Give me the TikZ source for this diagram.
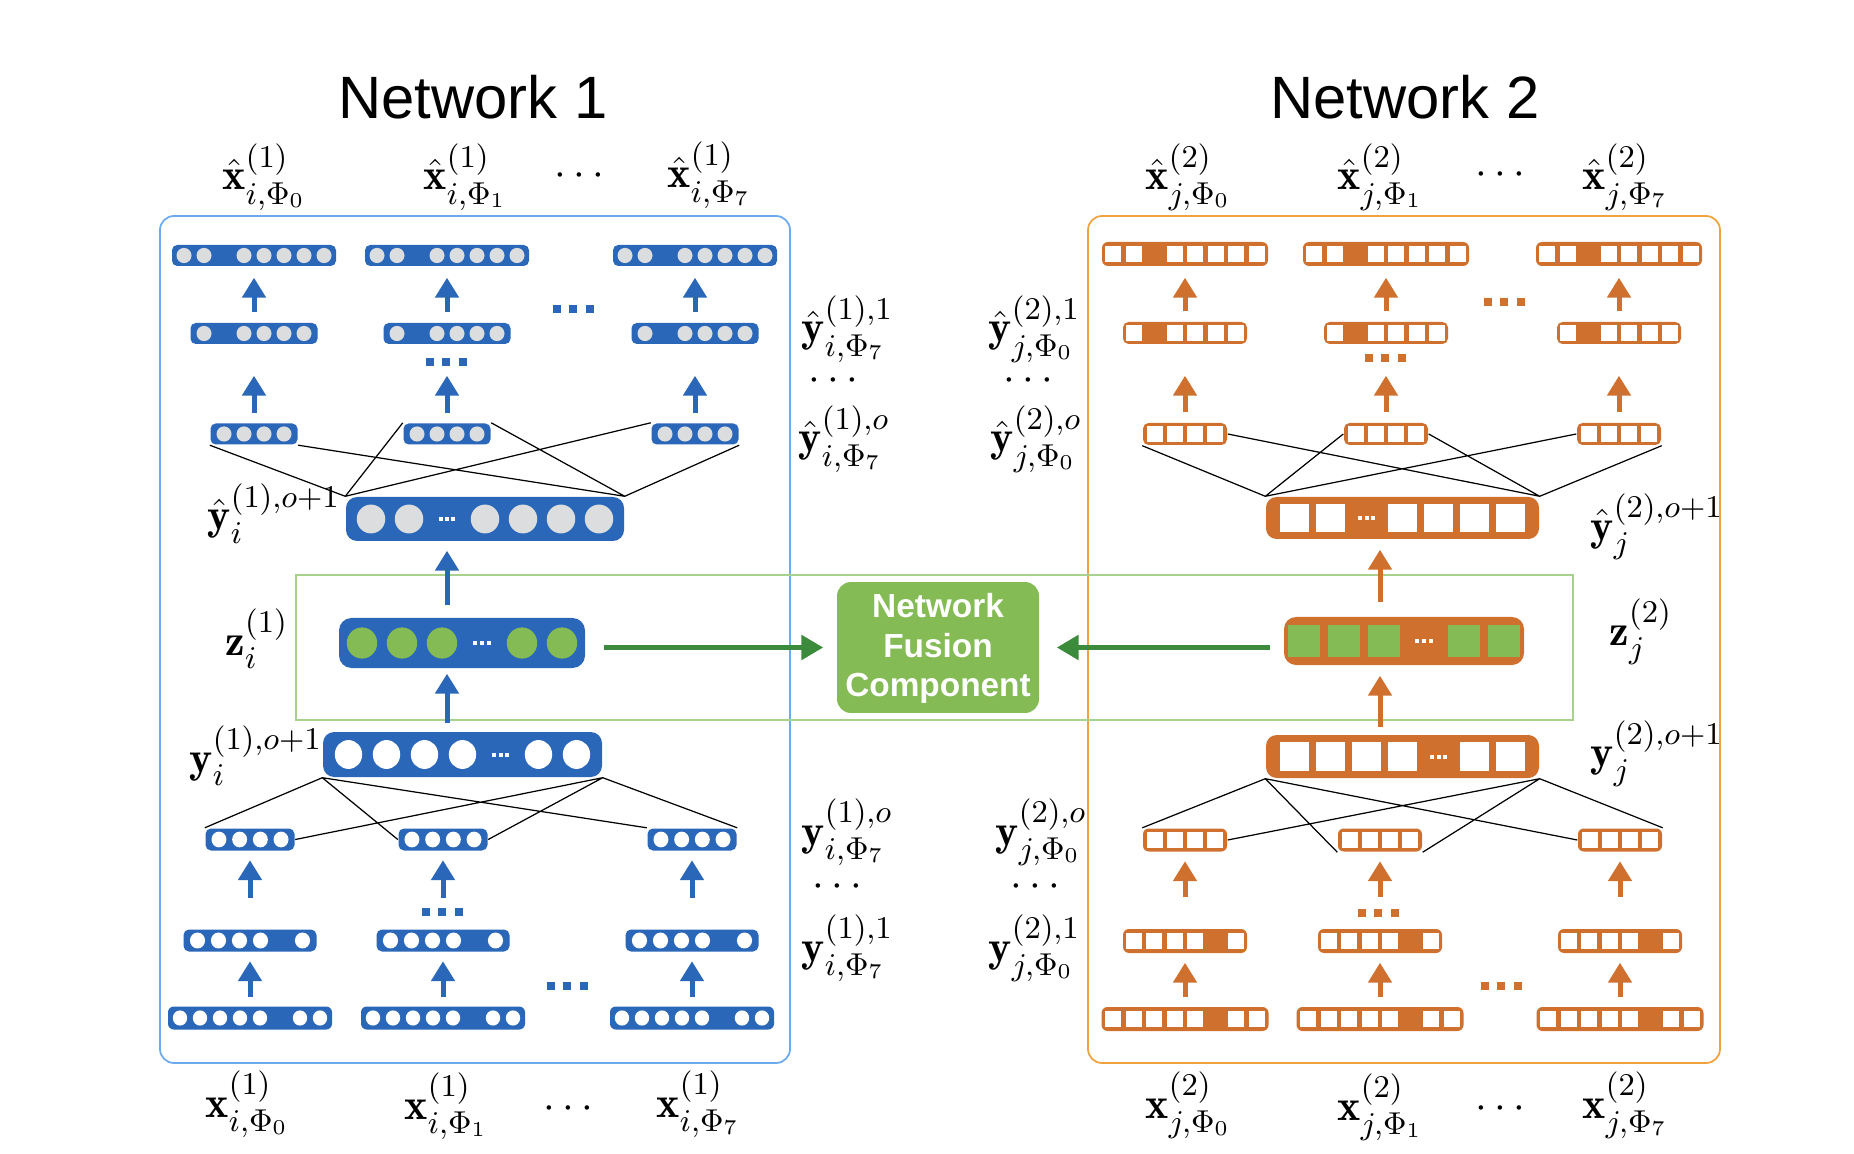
\documentclass[tikz,border=0pt]{standalone}
\usepackage{amsmath, amssymb}
\usepackage{fontspec}
\newfontfamily\headfont{Liberation Sans}
\usepackage{tikz}
\usetikzlibrary{arrows.meta, calc}

\definecolor{nblue}{HTML}{2A67B8}
\definecolor{norange}{HTML}{D0702F}
\definecolor{cgrey}{HTML}{DCDDDF}
\definecolor{cgreen}{HTML}{84BB55}
\definecolor{agreen}{HTML}{3C8A3B}
\definecolor{fblue}{HTML}{6BAAEE}
\definecolor{forange}{HTML}{F0A23F}
\definecolor{fgreen}{HTML}{A9D18E}

% one slot of a layer: #1 centre, #2 slot step
\newcommand{\slotg}[2]{\fill[cgrey] (#1) ellipse [x radius=#2*0.375, y radius=#2*0.38];}
\newcommand{\slotw}[2]{\fill[white] (#1) ellipse [x radius=#2*0.36, y radius=#2*0.38];}
\newcommand{\slotz}[2]{\fill[cgreen] (#1) ellipse [x radius=#2*0.38, y radius=#2*0.39];}
\newcommand{\slotb}[2]{\fill[white] (#1) +(-#2*0.4,-#2*0.4) rectangle +(#2*0.4,#2*0.4);}
\newcommand{\slotq}[2]{\fill[cgreen] (#1) +(-#2*0.39,-#2*0.4) rectangle +(#2*0.39,#2*0.4);}
\newcommand{\slotx}[2]{}
\newcommand{\slotd}[2]{\foreach \e in {-1,0,1} \fill[white] ($(#1)+(\e*#2*0.17,0)$) +(-2,-2) rectangle +(2,2);}

% a layer: #1 name, #2 centre, #3 width, #4 height, #5 step, #6 colour, #7 slots
\newcommand{\layer}[7]{%
  \node[vec, fill=#6, minimum width=#3*0.1mm, minimum height=#4*0.1mm,
        rounded corners=#4*0.025mm] (#1) at #2 {};
  \foreach \p [count=\n] in {#7} {\xdef\ncells{\n}}
  \foreach \p [count=\n] in {#7} {
    \coordinate (cc) at ([xshift={(\n-(\ncells+1)/2)*#5*0.1mm}]#1.center);
    \csname slot\p\endcsname{cc}{#5}
  }
}

% three square dots
\newcommand{\sqdots}[3]{\foreach \e in {-1,0,1} \fill[#3] ($(#1,#2)+(\e*16.5,0)$) +(-4,-4) rectangle +(4,4);}

\begin{document}
\begin{tikzpicture}[x=0.1mm, y=-0.1mm,
    vec/.style={rectangle, inner sep=0pt, draw=none},
    frame/.style={draw=#1, line width=0.5pt, rounded corners=1.4mm, inner sep=0pt},
    barrow/.style={draw=#1, line width=0.5mm, -{Triangle[width=2.3mm, length=2mm]},
                   shorten <=1mm, shorten >=1.1mm},
    garrow/.style={draw=agreen, line width=0.55mm, -{Triangle[width=2.4mm, length=2.2mm]}},
    link/.style={line width=0.35pt},
    lbl/.style={inner sep=0pt, anchor=base west, font=\fontsize{12.5}{15}\selectfont},
    dotlbl/.style={inner sep=0pt, font=\fontsize{12.5}{15}\selectfont},
    title/.style={inner sep=0pt, anchor=base, font=\headfont\fontsize{17}{20}\selectfont}]

    \useasboundingbox (0,0) rectangle (1854,1154);

    % Frames
    \node[frame=fblue, minimum width=63mm, minimum height=84.7mm] (N1) at (475,639.5) {};
    \node[frame=forange, minimum width=63.2mm, minimum height=84.7mm] (N2) at (1404,639.5) {};
    \node[draw=fgreen, line width=0.5pt, inner sep=0pt, minimum width=127.7mm,
          minimum height=14.5mm] (F) at (934.5,647.5) {};

    % Titles
    \node[title] (T1) at (473,119) {Network 1};
    \node[title] (T2) at (1405,119) {Network 2};

    % Network 1 layers
    \foreach \i/\x in {1/254,2/447,3/695} {
        \layer{La\i}{(\x,255.5)}{164}{21}{20}{nblue}{g,g,x,g,g,g,g,g}
        \layer{Lb\i}{(\x,333.5)}{127}{21}{20}{nblue}{g,x,g,g,g,g}
        \layer{Lc\i}{(\x,434)}{87}{21}{20}{nblue}{g,g,g,g}
    }
    \layer{Lhat}{(485,519)}{278}{44}{38}{nblue}{g,g,d,g,g,g,g}
    \layer{Lz}{(462,643)}{246}{50}{40}{nblue}{z,z,z,d,z,z}
    \layer{Ly}{(462.5,754.5)}{279}{45}{38}{nblue}{w,w,w,w,d,w,w}
    \foreach \i/\x in {1/250,2/443,3/692} {
        \layer{Ld\i}{(\x,839.5)}{89}{22}{20.7}{nblue}{w,w,w,w}
        \layer{Le\i}{(\x,940.5)}{133}{22}{21}{nblue}{w,w,w,w,x,w}
        \layer{Lf\i}{(\x,1018)}{164}{23}{20}{nblue}{w,w,w,w,w,x,w,w}
    }

    % Network 2 layers
    \foreach \i/\x in {1/1185,2/1386,3/1619} {
        \layer{Ra\i}{(\x,254)}{166}{24}{20.5}{norange}{b,b,x,b,b,b,b,b}
        \layer{Rb\i}{(\x,333)}{124}{22}{20.5}{norange}{b,x,b,b,b,b}
        \layer{Rc\i}{(\x,434)}{84}{22}{20}{norange}{b,b,b,b}
    }
    \layer{Rhat}{(1402.5,518)}{273}{42}{36}{norange}{b,b,d,b,b,b,b}
    \layer{Rz}{(1404,641)}{240}{48}{40}{norange}{q,q,q,d,q,q}
    \layer{Ry}{(1402.5,756.5)}{273}{43}{36}{norange}{b,b,b,b,d,b,b}
    \foreach \i/\x in {1/1185,2/1380,3/1620} {
        \layer{Rd\i}{(\x,840)}{84}{23}{20}{norange}{b,b,b,b}
        \layer{Re\i}{(\x,941)}{124}{24}{20.5}{norange}{b,b,b,b,x,b}
        \layer{Rf\i}{(\x,1019)}{167}{24}{20.5}{norange}{b,b,b,b,b,x,b,b}
    }

    % Column arrows
    \foreach \N/\c in {L/nblue,R/norange} {
        \foreach \i in {1,2,3} {
            \draw[barrow=\c] (\N b\i.north) -- (\N a\i.south);
            \draw[barrow=\c, shorten >=3.1mm] (\N c\i.north) -- (\N b\i.south);
            \draw[barrow=\c, shorten <=3.1mm, shorten >=0.9mm] (\N e\i.north) -- (\N d\i.south);
            \draw[barrow=\c, shorten <=0.9mm, shorten >=0.9mm] (\N f\i.north) -- (\N e\i.south);
        }
    }
    \draw[barrow=nblue, shorten <=1.2mm, shorten >=0.9mm] (Lz.north -| Lc2) -- (Lhat.south -| Lc2);
    \draw[barrow=nblue, shorten <=0.8mm, shorten >=0.5mm] (Ly.north -| Lc2) -- (Lz.south -| Lc2);
    \draw[barrow=norange, shorten <=1.4mm, shorten >=1mm] (Rz.north -| Rd2) -- (Rhat.south -| Rd2);
    \draw[barrow=norange, shorten <=0.7mm, shorten >=1mm] (Ry.north -| Rd2) -- (Rz.south -| Rd2);

    % Skipped layers
    \sqdots{573}{309}{nblue}
    \sqdots{446}{362}{nblue}
    \sqdots{442}{912}{nblue}
    \sqdots{567}{986}{nblue}
    \sqdots{1504}{302}{norange}
    \sqdots{1385}{358}{norange}
    \sqdots{1378}{913}{norange}
    \sqdots{1501}{986}{norange}

    % Links between the shared layers and the modality layers
    \draw[link] (Lhat.north west) -- (Lc1.south west)
                (Lhat.north east) -- (Lc1.south east)
                (Lhat.north west) -- (Lc2.north west)
                (Lhat.north east) -- (Lc2.north east)
                (Lhat.north west) -- (Lc3.north west)
                (Lhat.north east) -- (Lc3.south east);
    \draw[link] (Ly.south west) -- (Ld1.north west)
                (Ly.south east) -- (Ld1.east)
                (Ly.south west) -- (Ld2.west)
                (Ly.south east) -- (Ld2.east)
                (Ly.south west) -- (Ld3.north west)
                (Ly.south east) -- (Ld3.north east);
    \draw[link] (Rhat.north west) -- (Rc1.south west)
                (Rhat.north east) -- (Rc1.east)
                (Rhat.north west) -- (Rc2.west)
                (Rhat.north east) -- (Rc2.east)
                (Rhat.north west) -- (Rc3.west)
                (Rhat.north east) -- (Rc3.south east);
    \draw[link] (Ry.south west) -- (Rd1.north west)
                (Ry.south east) -- (Rd1.east)
                (Ry.south west) -- (Rd2.south west)
                (Ry.south east) -- (Rd2.south east)
                (Ry.south west) -- (Rd3.west)
                (Ry.south east) -- (Rd3.north east);

    % Fusion component
    \node[fill=cgreen, rounded corners=1.4mm, minimum width=20.2mm, minimum height=13.1mm,
          inner sep=0pt, text=white, align=center,
          font=\headfont\bfseries\fontsize{9.5}{11.3}\selectfont] (fuse) at (938,647.5)
          {\rule{0pt}{7.5pt}Network\\Fusion\\Component};
    \draw[garrow, shorten <=1.8mm, shorten >=1.3mm] (Lz.east |- fuse) -- (fuse.west);
    \draw[garrow, shorten <=1.3mm, shorten >=1.7mm] (Rz.west |- fuse) -- (fuse.east);

    % Outputs
    \node[lbl] (xh10) at (222,190) {$\hat{\mathbf{x}}^{(1)}_{i,\Phi_0}$};
    \node[lbl] (xh11) at (423,190) {$\hat{\mathbf{x}}^{(1)}_{i,\Phi_1}$};
    \node[dotlbl] (xh1d) at (583,176) {$\cdots$};
    \node[lbl] (xh17) at (667,188) {$\hat{\mathbf{x}}^{(1)}_{i,\Phi_7}$};
    \node[lbl] (xh20) at (1145,190) {$\hat{\mathbf{x}}^{(2)}_{j,\Phi_0}$};
    \node[lbl] (xh21) at (1337,190) {$\hat{\mathbf{x}}^{(2)}_{j,\Phi_1}$};
    \node[dotlbl] (xh2d) at (1504,175) {$\cdots$};
    \node[lbl] (xh27) at (1582,190) {$\hat{\mathbf{x}}^{(2)}_{j,\Phi_7}$};

    % Inputs
    \node[lbl] (x10) at (205,1117) {$\mathbf{x}^{(1)}_{i,\Phi_0}$};
    \node[lbl] (x11) at (404,1119) {$\mathbf{x}^{(1)}_{i,\Phi_1}$};
    \node[dotlbl] (x1d) at (572,1109) {$\cdots$};
    \node[lbl] (x17) at (656,1117) {$\mathbf{x}^{(1)}_{i,\Phi_7}$};
    \node[lbl] (x20) at (1145,1118) {$\mathbf{x}^{(2)}_{j,\Phi_0}$};
    \node[lbl] (x21) at (1337,1120) {$\mathbf{x}^{(2)}_{j,\Phi_1}$};
    \node[dotlbl] (x2d) at (1504,1109) {$\cdots$};
    \node[lbl] (x27) at (1582,1118) {$\mathbf{x}^{(2)}_{j,\Phi_7}$};

    % Hidden layer labels
    \node[lbl] (yh11) at (801,342) {$\hat{\mathbf{y}}^{(1),1}_{i,\Phi_7}$};
    \node[dotlbl] (yh1d) at (837,381) {$\cdots$};
    \node[lbl] (yh1o) at (798,452) {$\hat{\mathbf{y}}^{(1),o}_{i,\Phi_7}$};
    \node[lbl] (yh21) at (988,342) {$\hat{\mathbf{y}}^{(2),1}_{j,\Phi_0}$};
    \node[dotlbl] (yh2d) at (1032,381) {$\cdots$};
    \node[lbl] (yh2o) at (990,452) {$\hat{\mathbf{y}}^{(2),o}_{j,\Phi_0}$};
    \node[lbl] (y1o) at (801,845) {$\mathbf{y}^{(1),o}_{i,\Phi_7}$};
    \node[dotlbl] (y1d) at (841,887) {$\cdots$};
    \node[lbl] (y11) at (801,961) {$\mathbf{y}^{(1),1}_{i,\Phi_7}$};
    \node[lbl] (y2o) at (995,845) {$\mathbf{y}^{(2),o}_{j,\Phi_0}$};
    \node[dotlbl] (y2d) at (1039,887) {$\cdots$};
    \node[lbl] (y21) at (988,961) {$\mathbf{y}^{(2),1}_{j,\Phi_0}$};

    % Shared layer labels
    \node[lbl] (yhs1) at (207,530) {$\hat{\mathbf{y}}^{(1),o+1}_{i}$};
    \node[lbl] (zs1) at (225,655) {$\mathbf{z}^{(1)}_{i}$};
    \node[lbl] (ys1) at (189,772) {$\mathbf{y}^{(1),o+1}_{i}$};
    \node[lbl] (yhs2) at (1590,540) {$\hat{\mathbf{y}}^{(2),o+1}_{j}$};
    \node[lbl] (zs2) at (1609,645) {$\mathbf{z}^{(2)}_{j}$};
    \node[lbl] (ys2) at (1590,767) {$\mathbf{y}^{(2),o+1}_{j}$};
\end{tikzpicture}
\end{document}
